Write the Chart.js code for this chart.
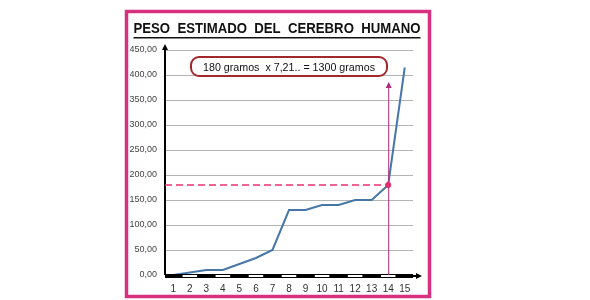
<!DOCTYPE html>
<html>
<head>
<meta charset="utf-8">
<script src="https://cdn.jsdelivr.net/npm/chart.js@4/dist/chart.umd.min.js"></script>
<style>
  html, body { margin: 0; padding: 0; background: #fff; }
  #wrap { width: 590px; height: 300px; position: relative; }
</style>
</head>
<body>
<div id="wrap"><canvas id="brainChart"></canvas></div>
<script>
const etapas = ['1', '2', '3', '4', '5', '6', '7', '8', '9', '10', '11', '12', '13', '14', '15'];
const peso = [0, 5, 10, 10, 22, 34, 50, 130, 130, 140, 140, 150, 150, 180, 415];
const yTicks = [0, 50, 100, 150, 200, 250, 300, 350, 400, 450];
const marcaIdx = 13;
const titulo = 'PESO  ESTIMADO  DEL  CEREBRO  HUMANO';
const nota = '180 gramos  x 7,21.. = 1300 gramos';

const pink = '#d6307f';

function arrowHead(ctx, x, y, dir, size) {
  ctx.beginPath();
  if (dir === 'up') {
    ctx.moveTo(x, y);
    ctx.lineTo(x - size / 2, y + size);
    ctx.lineTo(x + size / 2, y + size);
  } else {
    ctx.moveTo(x, y);
    ctx.lineTo(x - size, y - size / 2);
    ctx.lineTo(x - size, y + size / 2);
  }
  ctx.closePath();
  ctx.fill();
}

const decor = {
  id: 'decor',
  beforeDraw(chart) {
    const ctx = chart.ctx;
    ctx.save();
    ctx.fillStyle = '#fff';
    ctx.fillRect(0, 0, chart.width, chart.height);
    // marco rosa
    ctx.strokeStyle = pink;
    ctx.lineWidth = 3.5;
    ctx.strokeRect(126.5, 11.5, 303, 285);
    // titulo subrayado
    ctx.fillStyle = '#111';
    ctx.font = 'bold 15px "Liberation Sans", Arial, sans-serif';
    ctx.textAlign = 'center';
    ctx.textBaseline = 'middle';
    const w = 287;
    ctx.fillText(titulo, 277, 29, w);
    ctx.fillRect(277 - w / 2, 37, w, 1.5);
    ctx.restore();
  },
  afterDatasetsDraw(chart) {
    const ctx = chart.ctx;
    const x = chart.scales.x, y = chart.scales.y;
    const a = chart.chartArea;
    ctx.save();

    // eje Y con flecha
    ctx.fillStyle = '#000';
    ctx.fillRect(a.left - 1, a.top - 2, 2, a.bottom - a.top + 2);
    arrowHead(ctx, a.left, a.top - 6, 'up', 6);

    // eje X a franjas
    const h = 4;
    ctx.fillStyle = '#000';
    ctx.fillRect(a.left, a.bottom - 1, a.right - a.left, h);
    const half = (x.getPixelForValue(1) - x.getPixelForValue(0)) / 2;
    etapas.forEach((e, i) => {
      if (i % 2 === 1) {
        const cx = x.getPixelForValue(i);
        ctx.fillStyle = '#fff';
        ctx.fillRect(cx - half + 1, a.bottom, half * 2 - 2, h - 2);
      }
    });
    ctx.fillStyle = '#000';
    ctx.fillRect(a.right, a.bottom, 4, 2);
    arrowHead(ctx, a.right + 9, a.bottom + 1, 'right', 6);

    // referencia punteada
    const px = x.getPixelForValue(marcaIdx);
    const py = y.getPixelForValue(peso[marcaIdx]);
    ctx.strokeStyle = '#e8306f';
    ctx.lineWidth = 1.5;
    ctx.setLineDash([7, 4]);
    ctx.beginPath();
    ctx.moveTo(a.left, py);
    ctx.lineTo(px, py);
    ctx.stroke();
    ctx.setLineDash([]);

    // linea vertical con flecha
    const topY = y.getPixelForValue(386);
    ctx.strokeStyle = '#b02a78';
    ctx.fillStyle = '#b02a78';
    ctx.lineWidth = 1;
    ctx.beginPath();
    ctx.moveTo(px + 0.5, a.bottom);
    ctx.lineTo(px + 0.5, topY + 5);
    ctx.stroke();
    arrowHead(ctx, px + 0.5, topY, 'up', 6);

    // punto marcado
    ctx.fillStyle = '#e0306f';
    ctx.beginPath();
    ctx.arc(px, py, 3, 0, Math.PI * 2);
    ctx.fill();

    // nota redondeada
    const nx = x.getPixelForValue(7);
    const ny = y.getPixelForValue(417);
    const bw = 196, bh = 19;
    ctx.strokeStyle = '#a3282c';
    ctx.lineWidth = 2;
    ctx.fillStyle = '#fff';
    ctx.beginPath();
    ctx.roundRect(nx - bw / 2, ny - bh / 2, bw, bh, 8);
    ctx.fill();
    ctx.stroke();
    ctx.fillStyle = '#111';
    ctx.font = '11px "Liberation Sans", Arial, sans-serif';
    ctx.textAlign = 'center';
    ctx.textBaseline = 'middle';
    ctx.fillText(nota, nx, ny + 1, 172);
    ctx.restore();
  }
};

new Chart(document.getElementById('brainChart'), {
  type: 'line',
  data: {
    labels: etapas,
    datasets: [{
      data: peso,
      borderColor: '#4677a8',
      borderWidth: 2,
      pointRadius: 0,
      tension: 0
    }]
  },
  options: {
    responsive: true,
    maintainAspectRatio: false,
    animation: false,
    layout: { padding: { left: 0, top: 50, right: 177, bottom: 0 } },
    plugins: { legend: { display: false }, tooltip: { enabled: false } },
    scales: {
      x: {
        offset: true,
        grid: { display: false, drawTicks: false },
        border: { display: false },
        ticks: {
          color: '#333',
          font: { family: '"Liberation Sans", Arial', size: 10 },
          padding: 8,
          autoSkip: false,
          maxRotation: 0,
          minRotation: 0
        },
        afterFit(s) { s.height = 25; }
      },
      y: {
        min: 0,
        max: 450,
        afterBuildTicks(s) { s.ticks = yTicks.map(v => ({ value: v })); },
        grid: { color: '#b4b4b4', drawTicks: false },
        border: { display: false },
        ticks: {
          color: '#444',
          font: { family: '"Liberation Sans", Arial', size: 9 },
          padding: 8,
          callback: v => v.toFixed(2).replace('.', ',')
        },
        afterFit(s) { s.width = 165; }
      }
    }
  },
  plugins: [decor]
});
</script>
</body>
</html>
